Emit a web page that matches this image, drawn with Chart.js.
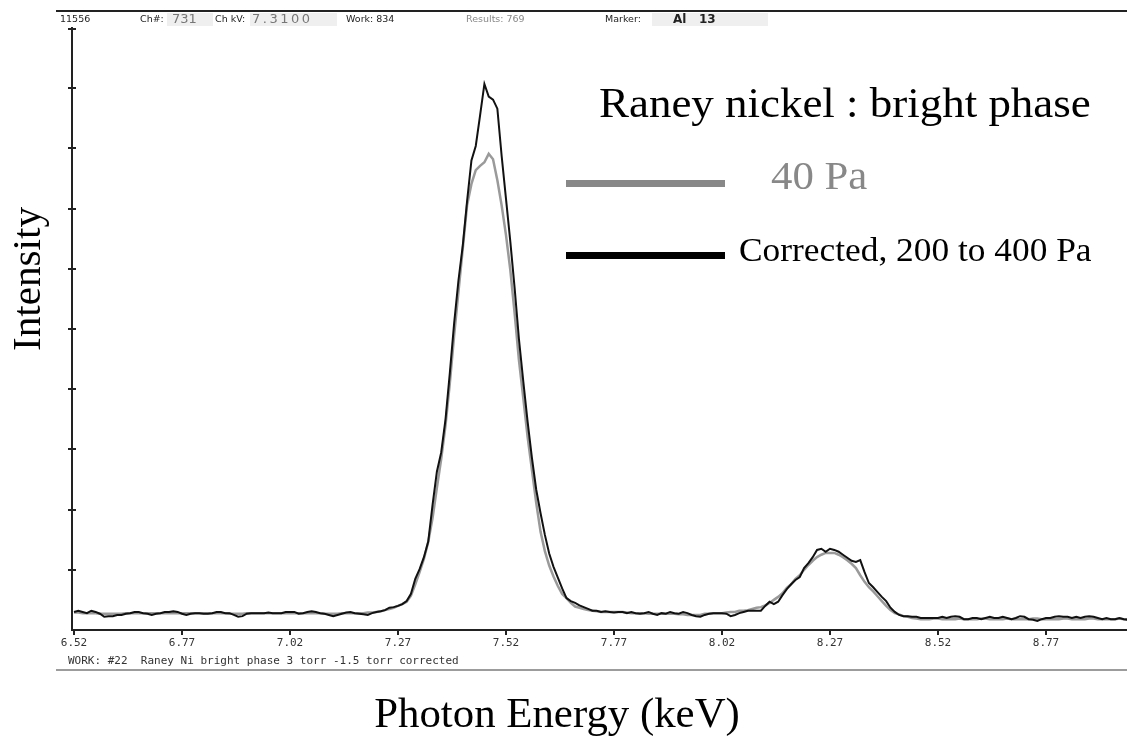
<!DOCTYPE html>
<html><head><meta charset="utf-8">
<script src="https://cdn.jsdelivr.net/npm/chart.js@4/dist/chart.umd.min.js"></script>
<style>html,body{margin:0;padding:0;background:#fff;overflow:hidden}canvas{display:block}</style>
</head><body>
<canvas id="c" width="1127" height="746"></canvas>
<script>
// Photon energy of each channel (keV)
const energyKeV = [
6.52,6.53,6.54,6.55,6.56,6.57,6.58,6.59,6.60,6.61,
6.62,6.63,6.64,6.65,6.66,6.67,6.68,6.69,6.70,6.71,
6.72,6.73,6.74,6.75,6.76,6.77,6.78,6.79,6.80,6.81,
6.82,6.83,6.84,6.85,6.86,6.87,6.88,6.89,6.90,6.91,
6.92,6.93,6.94,6.95,6.96,6.97,6.98,6.99,7.00,7.01,
7.02,7.03,7.04,7.05,7.06,7.07,7.08,7.09,7.10,7.11,
7.12,7.13,7.14,7.15,7.16,7.17,7.18,7.19,7.20,7.21,
7.22,7.23,7.24,7.25,7.26,7.27,7.28,7.29,7.30,7.31,
7.32,7.33,7.34,7.35,7.36,7.37,7.38,7.39,7.40,7.41,
7.42,7.43,7.44,7.45,7.46,7.47,7.48,7.49,7.50,7.51,
7.52,7.53,7.54,7.55,7.56,7.57,7.58,7.59,7.60,7.61,
7.62,7.63,7.64,7.65,7.66,7.67,7.68,7.69,7.70,7.71,
7.72,7.73,7.74,7.75,7.76,7.77,7.78,7.79,7.80,7.81,
7.82,7.83,7.84,7.85,7.86,7.87,7.88,7.89,7.90,7.91,
7.92,7.93,7.94,7.95,7.96,7.97,7.98,7.99,8.00,8.01,
8.02,8.03,8.04,8.05,8.06,8.07,8.08,8.09,8.10,8.11,
8.12,8.13,8.14,8.15,8.16,8.17,8.18,8.19,8.20,8.21,
8.22,8.23,8.24,8.25,8.26,8.27,8.28,8.29,8.30,8.31,
8.32,8.33,8.34,8.35,8.36,8.37,8.38,8.39,8.40,8.41,
8.42,8.43,8.44,8.45,8.46,8.47,8.48,8.49,8.50,8.51,
8.52,8.53,8.54,8.55,8.56,8.57,8.58,8.59,8.60,8.61,
8.62,8.63,8.64,8.65,8.66,8.67,8.68,8.69,8.70,8.71,
8.72,8.73,8.74,8.75,8.76,8.77,8.78,8.79,8.80,8.81,
8.82,8.83,8.84,8.85,8.86,8.87,8.88,8.89,8.90,8.91,
8.92,8.93,8.94,8.95,8.96];

// Corrected spectrum, 200 to 400 Pa (black)
const intensityCorrected = [
30,32,30,28,32,30,27,22,23,23,
25,25,27,28,30,30,28,27,25,27,
28,30,30,31,30,27,25,27,28,28,
27,27,28,30,30,28,28,25,22,23,
27,28,28,28,28,29,28,28,28,30,
30,30,27,28,30,31,30,28,27,25,
23,25,27,29,30,28,27,26,25,28,
30,31,33,37,38,40,43,48,60,85,
101,121,147,208,263,295,350,427,510,581,
639,713,780,804,855,907,886,881,866,787,
716,645,568,483,413,346,286,233,194,158,
127,105,87,69,53,48,45,41,38,35,
32,32,30,31,30,29,30,30,28,30,
28,27,28,30,27,25,28,27,30,28,
27,30,28,25,23,22,25,27,28,28,
28,27,23,25,28,30,32,32,32,32,
40,47,43,47,58,68,76,83,88,103,
111,121,133,135,130,135,133,130,125,120,
115,113,116,96,78,71,63,55,48,37,
30,25,23,23,22,22,20,20,20,20,
20,22,20,22,23,22,18,18,20,20,
18,20,22,20,20,22,20,18,20,23,
22,18,17,15,18,20,20,22,23,22,
22,20,22,20,22,23,22,20,18,20,
18,18,20,18,17];

// 40 Pa spectrum (grey)
const intensity40Pa = [
29,29,28,28,28,28,27,27,27,27,
27,27,28,28,28,28,28,28,28,28,
28,28,28,28,28,28,28,28,28,28,
28,28,28,28,28,28,27,27,27,27,
28,28,28,28,28,28,28,28,28,28,
28,28,28,28,28,28,28,28,27,27,
27,27,28,28,28,28,28,28,29,29,
30,31,33,35,37,40,43,47,57,76,
96,118,146,186,236,284,340,410,490,562,
634,706,741,764,771,777,791,782,747,705,
656,598,526,448,385,321,266,211,163,131,
107,89,73,60,53,45,39,37,35,33,
32,31,30,30,30,30,30,30,29,28,
28,28,28,27,27,27,27,27,27,27,
26,26,25,25,25,25,27,27,28,28,
28,29,30,30,32,32,33,35,37,38,
41,45,50,55,61,70,76,85,91,100,
108,115,121,125,128,128,128,125,121,116,
110,103,91,80,71,64,56,48,40,33,
28,26,23,22,20,19,18,18,18,19,
19,18,18,18,18,19,18,18,18,18,
19,19,18,18,18,18,19,18,18,18,
18,18,19,19,18,18,18,18,18,19,
19,18,18,18,18,19,19,18,18,18,
18,18,19,18,18];

const xTickValues = [6.52,6.77,7.02,7.27,7.52,7.77,8.02,8.27,8.52,8.77];
const yTickValues = [100,200,300,400,500,600,700,800,900];
const seriesLabels = ['Corrected, 200 to 400 Pa','40 Pa'];

const toPoints = (ys) => ys.map((y, i) => ({x: energyKeV[i], y: y}));

function txt(c, s, x, y, font, color, sx, align, spacing) {
  c.save();
  c.font = font; c.fillStyle = color; c.textAlign = align || 'left';
  if (spacing) c.letterSpacing = spacing;
  c.translate(x, y); c.scale(sx || 1, 1);
  c.fillText(s, 0, 0);
  c.restore();
}

const decor = {
  id: 'decor',
  beforeDraw(chart) {
    const c = chart.ctx; c.save(); c.fillStyle = '#fff'; c.fillRect(0, 0, chart.width, chart.height); c.restore();
  },
  afterDraw(chart) {
    const c = chart.ctx;
    const ys = chart.scales.y;
    c.save();
    // small ticks on right side of y axis + top cap
    c.strokeStyle = '#222'; c.lineWidth = 2;
    c.beginPath();
    yTickValues.forEach(v => { const p = Math.round(ys.getPixelForValue(v)); c.moveTo(ys.right, p); c.lineTo(ys.right + 4, p); });
    c.moveTo(ys.right - 4, ys.top + 1); c.lineTo(ys.right + 4, ys.top + 1);
    c.stroke();
    // header rule
    c.strokeStyle = '#222'; c.lineWidth = 2;
    c.beginPath(); c.moveTo(56, 11); c.lineTo(1127, 11); c.stroke();
    // bottom rule
    c.strokeStyle = '#9c9c9c'; c.lineWidth = 2;
    c.beginPath(); c.moveTo(56, 670); c.lineTo(1127, 670); c.stroke();
    // header boxes
    c.fillStyle = '#efefef';
    c.fillRect(167, 13, 46, 13); c.fillRect(250, 13, 87, 13); c.fillRect(652, 13, 116, 13);
    c.textBaseline = 'middle';
    const hf = '9.5px "DejaVu Sans"';
    txt(c, '11556', 60, 20, hf, '#222');
    txt(c, 'Ch#:', 140, 20, hf, '#222');
    txt(c, 'Ch kV:', 215, 20, hf, '#222');
    txt(c, 'Work: 834', 346, 20, hf, '#222');
    txt(c, 'Results: 769', 466, 20, hf, '#888');
    txt(c, 'Marker:', 605, 20, hf, '#222');
    txt(c, '731', 172, 19.5, '13px "DejaVu Sans"', '#777', 1);
    txt(c, '7.3100', 252, 19.5, '13px "DejaVu Sans"', '#777', 1, 'left', '2.5px');
    txt(c, 'Al   13', 673, 19.5, 'bold 12px "DejaVu Sans"', '#222', 1);
    // work line
    txt(c, 'WORK: #22  Raney Ni bright phase 3 torr -1.5 torr corrected', 68, 661, '11px "DejaVu Sans Mono"', '#333');
    // title and legend
    c.textBaseline = 'alphabetic';
    txt(c, 'Raney nickel : bright phase', 599, 117, '42px "Liberation Serif"', '#000', 1.07);
    c.lineWidth = 7;
    c.strokeStyle = '#888'; c.beginPath(); c.moveTo(566, 183.5); c.lineTo(725, 183.5); c.stroke();
    c.strokeStyle = '#000'; c.beginPath(); c.moveTo(566, 255.5); c.lineTo(725, 255.5); c.stroke();
    txt(c, seriesLabels[1], 771, 189, '40px "Liberation Serif"', '#888', 1.07);
    txt(c, seriesLabels[0], 739, 261, '34px "Liberation Serif"', '#000', 1.04);
    // axis titles
    c.textBaseline = 'middle';
    txt(c, 'Photon Energy (keV)', 557, 716, '42px "Liberation Serif"', '#000', 1.02, 'center');
    c.save(); c.translate(29, 279); c.rotate(-Math.PI / 2);
    txt(c, 'Intensity', 0, 0, '40px "Liberation Serif"', '#000', 1.03, 'center');
    c.restore();
    c.restore();
  }
};

new Chart(document.getElementById('c'), {
  type: 'line',
  data: {
    datasets: [
      { label: seriesLabels[0], data: toPoints(intensityCorrected), borderColor: '#111', borderWidth: 2, pointRadius: 0, tension: 0, fill: false },
      { label: seriesLabels[1], data: toPoints(intensity40Pa), borderColor: '#9a9a9a', borderWidth: 2.5, pointRadius: 0, tension: 0, fill: false }
    ]
  },
  options: {
    responsive: false, animation: false, devicePixelRatio: 1,
    layout: { padding: { top: 28, left: 0, right: 0, bottom: 0 } },
    plugins: { legend: { display: false }, tooltip: { enabled: false }, title: { display: false } },
    scales: {
      x: {
        type: 'linear', min: 6.51537, max: 8.9575,
        afterBuildTicks: s => { s.ticks = xTickValues.map(v => ({ value: v })); },
        afterFit: s => { s.height = 116; },
        ticks: { autoSkip: false, maxRotation: 0, padding: 2, color: '#333', font: { family: 'DejaVu Sans Mono', size: 11 }, callback: v => Number(v).toFixed(2) },
        grid: { drawOnChartArea: false, drawTicks: true, tickLength: 5, color: '#222', lineWidth: 2 },
        border: { display: true, color: '#222', width: 2 }
      },
      y: {
        min: 0, max: 1000,
        afterBuildTicks: s => { s.ticks = yTickValues.map(v => ({ value: v })); },
        afterFit: s => { s.width = 72; },
        ticks: { display: false },
        grid: { drawOnChartArea: false, drawTicks: true, tickLength: 4, color: '#222', lineWidth: 2 },
        border: { display: true, color: '#222', width: 2 }
      }
    }
  },
  plugins: [decor]
});
</script>
</body></html>
